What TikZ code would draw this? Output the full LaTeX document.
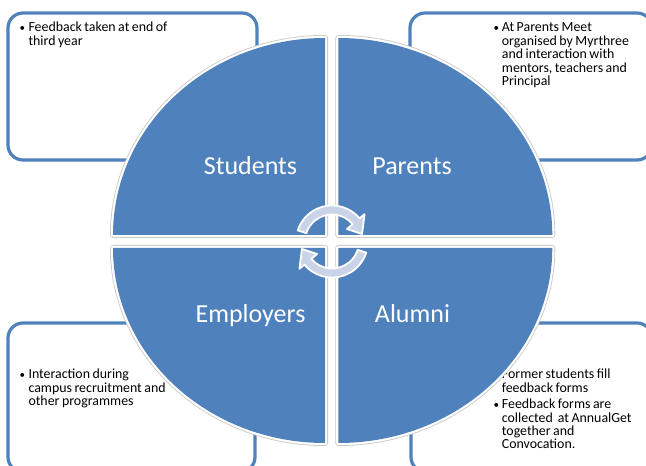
\documentclass[tikz,border=0pt]{standalone}
\usepackage{fontspec}
\setmainfont{Carlito}
\definecolor{acc}{HTML}{4F81BD}
\definecolor{arrfill}{HTML}{C9D4E8}
\definecolor{rim}{HTML}{C6C6C6}
\newcommand\mytxtfont{\fontsize{13.9}{16}\selectfont\spaceskip=0.18em plus 0.05em\relax}
\begin{document}
\begin{tikzpicture}[x=1pt,y=1pt,
  fbox/.style={draw=acc, line width=3.2pt, fill=white, rounded corners=15pt},
  quad/.style={preaction={draw=rim, line width=6pt, line join=round},
               preaction={draw=white, line width=4.4pt, line join=round},
               fill=acc},
  lbl/.style={text=white, font=\fontsize{26}{30}\selectfont, inner sep=0pt, anchor=base},
  txt/.style={font=\mytxtfont, inner sep=0pt, anchor=base west, text=black},
  bul/.style={font=\fontsize{11}{13}\selectfont, inner sep=0pt, anchor=base west, text=black},
  cyc/.style={fill=arrfill, draw=white, line width=1.8pt, line join=round}
]
\useasboundingbox (0,0) rectangle (646,466);

% boxes
\path[fbox] (8,306) rectangle (257,453);
\path[fbox] (410,306) rectangle (652,453);
\path[fbox] (8,-6) rectangle (255,143);
\path[fbox] (411,-6) rectangle (652,143);

% texts
\node[bul] (b1) at (19.5,434) {\textbullet};
\node[txt] (t1a) at (28.3,434) {Feedback taken at end of};
\node[txt] (t1b) at (28.3,420.5) {third year};

\node[bul] (b2) at (493.5,434.3) {\textbullet};
\node[txt] (t2a) at (501.7,434.3) {At Parents Meet};
\node[txt] (t2b) at (501.7,420.8) {organised by Myrthree};
\node[txt] (t2c) at (501.7,407.3) {and interaction with};
\node[txt] (t2d) at (501.7,393.8) {mentors, teachers and};
\node[txt] (t2e) at (501.7,380.3) {Principal};

\node[bul] (b3) at (19.5,87.7) {\textbullet};
\node[txt] (t3a) at (28.3,87.7) {Interaction during};
\node[txt] (t3b) at (28.3,73.7) {campus recruitment and};
\node[txt] (t3c) at (28.3,60) {other programmes};

\node[bul] (b4) at (493.5,87.7) {\textbullet};
\node[txt] (t4a) at (501.7,87.7) {Former students fill};
\node[txt] (t4b) at (501.7,73.7) {feedback forms};
\node[bul] (b5) at (493.5,57.7) {\textbullet};
\node[txt] (t4c) at (501.7,57.7) {Feedback forms are};
\node[txt] (t4d) at (501.7,43.7) {collected~ at AnnualGet};
\node[txt] (t4e) at (501.7,30.3) {together and};
\node[txt] (t4f) at (501.7,17) {Convocation.};

% quadrants
\path[quad] (325,231) -- (113,231) arc[start angle=180, end angle=90, x radius=212, y radius=197] -- cycle;
\path[quad] (338.3,231) -- (552.3,231) arc[start angle=0, end angle=90, x radius=214, y radius=197] -- cycle;
\path[quad] (325,218) -- (113,218) arc[start angle=180, end angle=270, x radius=212, y radius=195] -- cycle;
\path[quad] (338.3,218) -- (552.3,218) arc[start angle=0, end angle=-90, x radius=214, y radius=195] -- cycle;

% labels
\node[lbl] (stu) at (250.5,291) {Students};
\node[lbl] (par) at (412,291) {Parents};
\node[lbl] (emp) at (250.5,143) {Employers};
\node[lbl] (alu) at (412.5,143) {Alumni};

% cycle arrows
\begin{scope}[shift={(332,224.5)}]
\path[cyc] (162:36) arc[start angle=162, end angle=40, radius=36] -- (40:42.5) -- (14:31) -- (40:19.5) -- (40:27) arc[start angle=40, end angle=162, radius=27] -- cycle;
\path[cyc] (-18:36) arc[start angle=-18, end angle=-140, radius=36] -- (220:42.5) -- (194:31) -- (220:19.5) -- (220:27) arc[start angle=-140, end angle=-18, radius=27] -- cycle;
\end{scope}
\end{tikzpicture}
\end{document}
